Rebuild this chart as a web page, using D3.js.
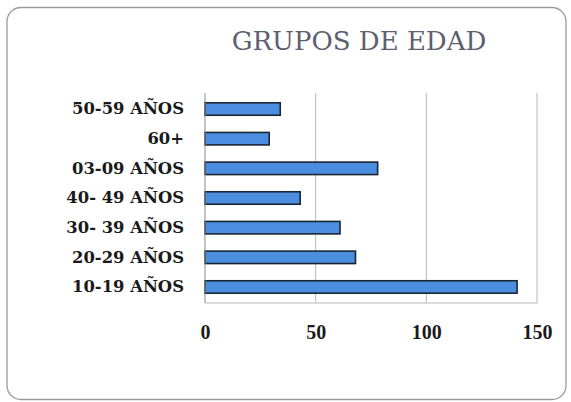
<!DOCTYPE html>
<html>
<head>
<meta charset="utf-8">
<script src="https://cdn.jsdelivr.net/npm/d3@7"></script>
<style>
  html, body { margin: 0; padding: 0; background: #ffffff; }
  svg { display: block; }
</style>
</head>
<body>
<div id="chart"></div>
<script>
"use strict";
(function () {
  const title = "GRUPOS DE EDAD";
  const categories = [
    "50-59 AÑOS",
    "60+",
    "03-09 AÑOS",
    "40- 49 AÑOS",
    "30- 39 AÑOS",
    "20-29 AÑOS",
    "10-19 AÑOS",
  ];
  const values = [34, 29, 78, 43, 61, 68, 141];
  const xTicks = [0, 50, 100, 150];

  const width = 571;
  const height = 402;
  const margin = { top: 93, right: 34, bottom: 99, left: 205 };

  const svg = d3
    .select("#chart")
    .append("svg")
    .attr("width", width)
    .attr("height", height);

  // Frame
  svg
    .append("rect")
    .attr("x", 7)
    .attr("y", 7.5)
    .attr("width", 559)
    .attr("height", 392)
    .attr("rx", 14)
    .attr("fill", "#ffffff")
    .attr("stroke", "#9a9a9a")
    .attr("stroke-width", 1.3);

  svg
    .append("text")
    .attr("x", 359)
    .attr("y", 50)
    .attr("text-anchor", "middle")
    .attr("font-family", "'DejaVu Serif', serif")
    .attr("font-size", 26)
    .attr("fill", "#5c5f70")
    .text(title);

  const x = d3
    .scaleLinear()
    .domain([0, 150])
    .range([margin.left, width - margin.right]);

  const y = d3
    .scaleBand()
    .domain(categories)
    .range([margin.top, height - margin.bottom])
    .paddingInner(0.58)
    .paddingOuter(0.33);

  const bottom = height - margin.bottom;

  // Gridlines
  svg
    .append("g")
    .selectAll("line")
    .data(xTicks.filter((d) => d > 0))
    .join("line")
    .attr("x1", (d) => x(d))
    .attr("x2", (d) => x(d))
    .attr("y1", margin.top)
    .attr("y2", bottom)
    .attr("stroke", "#b8b8b8")
    .attr("stroke-width", 1);

  svg
    .append("line")
    .attr("x1", x(0))
    .attr("x2", x(150))
    .attr("y1", bottom)
    .attr("y2", bottom)
    .attr("stroke", "#b8b8b8");

  // Bars
  svg
    .append("g")
    .selectAll("rect")
    .data(categories)
    .join("rect")
    .attr("x", x(0))
    .attr("y", (d) => y(d))
    .attr("width", (d, i) => x(values[i]) - x(0))
    .attr("height", y.bandwidth())
    .attr("fill", "#4b8ddf")
    .attr("stroke", "#1b2635")
    .attr("stroke-width", 1.6);

  // Left axis line
  svg
    .append("line")
    .attr("x1", x(0))
    .attr("x2", x(0))
    .attr("y1", margin.top)
    .attr("y2", bottom)
    .attr("stroke", "#8a8a8a");

  // Category labels
  const yAxis = svg
    .append("g")
    .attr("transform", `translate(${x(0) - 21},0)`)
    .call(d3.axisLeft(y).tickSize(0).tickPadding(0));
  yAxis.select(".domain").remove();
  yAxis
    .selectAll("text")
    .attr("font-family", "'DejaVu Serif', serif")
    .attr("font-weight", "bold")
    .attr("font-size", 16.4)
    .attr("fill", "#1a1a1a");

  // Value labels
  const xAxis = svg
    .append("g")
    .attr("transform", `translate(0,${bottom})`)
    .call(d3.axisBottom(x).tickValues(xTicks).tickSize(0).tickPadding(22));
  xAxis.select(".domain").remove();
  xAxis
    .selectAll("text")
    .attr("font-family", "'Liberation Serif', serif")
    .attr("font-weight", "bold")
    .attr("font-size", 20)
    .attr("fill", "#1a1a1a");
})();
</script>
</body>
</html>
